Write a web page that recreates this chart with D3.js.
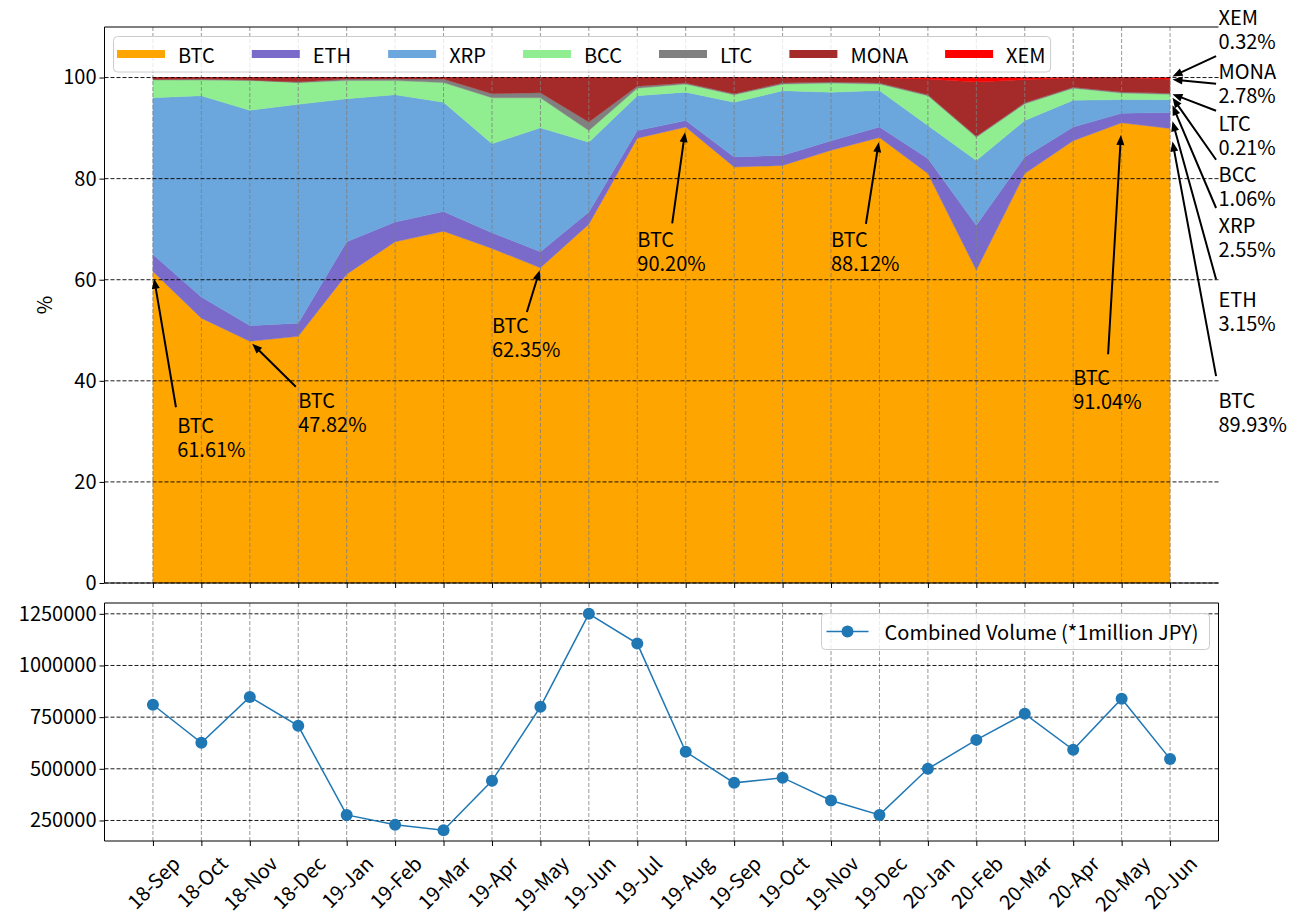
<!DOCTYPE html>
<html><head><meta charset="utf-8">
<script src="https://cdn.jsdelivr.net/npm/d3@7"></script>
<style>
body{margin:0;background:#fff}
svg{display:block}
text{font-family:"Noto Sans CJK JP","Noto Sans",sans-serif;fill:#000}
</style>
</head><body>
<svg id="chart" width="1295" height="920"></svg>
<script>
// ---------------- data ----------------
const months = ["18-Sep","18-Oct","18-Nov","18-Dec","19-Jan","19-Feb","19-Mar","19-Apr","19-May","19-Jun","19-Jul","19-Aug","19-Sep","19-Oct","19-Nov","19-Dec","20-Jan","20-Feb","20-Mar","20-Apr","20-May","20-Jun"];
const seriesNames = ["BTC","ETH","XRP","BCC","LTC","MONA","XEM"];
const BTC  = [61.61,52.4,47.82,48.8,61.1,67.5,69.6,66.2,62.35,71.0,88.0,90.20,82.3,82.6,85.6,88.12,81.0,61.9,81.0,87.5,91.04,89.93];
const ETH  = [3.4,4.2,3.1,2.6,6.4,3.9,3.9,3.1,3.2,2.4,1.5,1.3,2.0,2.0,1.9,2.1,3.0,8.9,3.3,2.7,1.9,3.15];
const XRP  = [31.0,39.8,42.6,43.3,28.3,25.2,21.6,17.6,24.5,13.8,6.9,5.6,10.8,12.8,9.6,7.2,6.5,12.8,7.2,5.3,2.7,2.55];
const BCC  = [3.5,3.1,5.9,4.3,3.6,2.8,3.9,9.1,5.95,2.3,1.5,1.6,1.5,1.3,1.8,1.3,5.9,4.6,3.3,2.4,1.3,1.06];
const LTC  = [0.1,0.2,0.1,0.1,0.3,0.3,0.7,0.8,1.0,1.7,0.4,0.2,0.2,0.2,0.2,0.2,0.2,0.2,0.2,0.2,0.2,0.21];
const MONA = [0.39,0.3,0.48,0.9,0.3,0.3,0.3,3.2,3.0,8.8,1.7,1.1,3.2,1.1,0.9,0.98,3.1,10.7,4.6,1.8,2.86,2.78];
const XEM  = [0,0,0,0,0,0,0,0,0,0,0,0,0,0,0,0.1,0.3,0.9,0.4,0.1,0,0.32];
const seriesValues = [BTC,ETH,XRP,BCC,LTC,MONA,XEM];
const seriesColors = ["#ffa500","#7a6ac9","#6ba6dc","#90ee90","#808080","#a52a2a","#ff0000"];
const volume = [810000,626000,848000,708000,277000,229000,203000,442000,800000,1250000,1106000,582000,432000,457000,347000,277000,500000,640000,766000,592000,839000,548000];
const volumeLabel = "Combined Volume (*1million JPY)";
const yTicksTop = [0,20,40,60,80,100];
const yTicksBottom = [250000,500000,750000,1000000,1250000];
// BTC annotations: month index and text anchor (x index, y %)
const btcNoteIndex = [0,2,8,11,15,20];
const btcNoteText = [[0.5,29.6],[3,34.6],[7,49.4],[10,66.4],[14,66.4],[19,39.1]];
// last-month annotations: text anchor y (%) for each series, placed at x index 22
const lastNoteY = [34.6,54.6,69.3,79.3,89.5,99.8,110.4];

// ---------------- layout ----------------
const svg = d3.select("#chart");
const FS = 20, LH = 24;
const L = 104.5, R = 1218.5, T1 = 27, B1 = 583, T2 = 603, B2 = 841;
const x = d3.scaleLinear().domain([-1, 22]).range([L, R]);
const yTop = d3.scaleLinear().domain([0, 110]).range([B1, T1]);
const vMin = d3.min(volume), vMax = d3.max(volume), vPad = (vMax - vMin) * 0.05;
const yBot = d3.scaleLinear().domain([vMin - vPad, vMax + vPad]).range([B2, T2]);

// ---------------- top stacked area ----------------
const rows = months.map((m, i) => { const r = {}; seriesNames.forEach((n, k) => r[n] = seriesValues[k][i]); return r; });
const stacked = d3.stack().keys(seriesNames)(rows);
const area = d3.area().x((d, i) => x(i)).y0(d => yTop(d[0])).y1(d => yTop(d[1]));
const gTop = svg.append("g");
gTop.selectAll("path.layer").data(stacked).join("path")
  .attr("class", "layer").attr("d", area)
  .attr("fill", (d, k) => seriesColors[k]).attr("stroke", (d, k) => seriesColors[k]).attr("stroke-width", 0.4);

function vGrid(g, y0, y1) {
  g.selectAll(null).data(months).join("line")
    .attr("x1", (d, i) => x(i)).attr("x2", (d, i) => x(i)).attr("y1", y0).attr("y2", y1)
    .attr("stroke", "#7f7f7f").attr("stroke-width", 0.8).attr("stroke-dasharray", "4,2");
}
function hGrid(g, ticks, sc) {
  g.selectAll(null).data(ticks).join("line")
    .attr("x1", L).attr("x2", R).attr("y1", d => sc(d)).attr("y2", d => sc(d))
    .attr("stroke", "#000").attr("stroke-width", 0.9).attr("stroke-dasharray", "4,2");
}
vGrid(gTop, T1, B1);
hGrid(gTop, yTicksTop, yTop);

// spines top
gTop.append("path").attr("d", `M${L},${T1}H${R}M${L},${T1}V${B1}H${R}`).attr("fill", "none").attr("stroke", "#000").attr("stroke-width", 1);

function styleAxis(g) {
  g.attr("font-size", FS).attr("font-family", null);
  g.select(".domain").remove();
  g.selectAll(".tick line").attr("stroke", "#000").attr("stroke-width", 1);
}
const axTopY = gTop.append("g").attr("transform", `translate(${L},0)`)
  .call(d3.axisLeft(yTop).tickValues(yTicksTop).tickSize(5).tickPadding(3).tickFormat(d3.format("d")));
styleAxis(axTopY);
const axTopX = gTop.append("g").attr("transform", `translate(0,${B1})`)
  .call(d3.axisBottom(x).tickValues(d3.range(months.length)).tickSize(5).tickFormat(""));
styleAxis(axTopX);

svg.append("text").attr("transform", `translate(43,${(T1 + B1) / 2}) rotate(-90)`)
  .attr("text-anchor", "middle").attr("dominant-baseline", "central").attr("font-size", FS).text("%");

// ---------------- annotations ----------------
const gAnn = svg.append("g");
function arrowPath(x0, y0, x1, y1) {
  const dx = x1 - x0, dy = y1 - y0, len = Math.hypot(dx, dy);
  const ux = dx / len, uy = dy / len, nx = -uy, ny = ux;
  const hl = Math.min(10, len * 0.6), hw = 4, tw = 1;
  const bx = x1 - ux * hl, by = y1 - uy * hl;
  return `M${x0 + nx * tw},${y0 + ny * tw}L${bx + nx * tw},${by + ny * tw}L${bx + nx * hw},${by + ny * hw}L${x1},${y1}` +
         `L${bx - nx * hw},${by - ny * hw}L${bx - nx * tw},${by - ny * tw}L${x0 - nx * tw},${y0 - ny * tw}Z`;
}
function annotate(lines, tx, ty, px, py) {
  const t = gAnn.append("text").attr("x", tx).attr("y", ty).attr("font-size", FS);
  lines.forEach((s, k) => t.append("tspan").attr("x", tx).attr("dy", k ? LH : 0).text(s));
  const w = d3.max(t.selectAll("tspan").nodes(), n => n.getComputedTextLength());
  const bx0 = tx, bx1 = tx + w, by0 = ty - 19, by1 = ty + LH * (lines.length - 1) + 6;
  const xs = [bx0, (bx0 + bx1) / 2, bx1], ys = [by0, (by0 + by1) / 2, by1];
  const sx = xs.reduce((a, b) => Math.abs(b - px) < Math.abs(a - px) ? b : a);
  const sy = ys.reduce((a, b) => Math.abs(b - py) < Math.abs(a - py) ? b : a);
  const r = Math.hypot(px - sx, py - sy), ux = (px - sx) / r, uy = (py - sy) / r, sh = 0.05 * r;
  gAnn.append("path").attr("d", arrowPath(sx + ux * sh, sy + uy * sh, px - ux * sh, py - uy * sh)).attr("fill", "#000");
}
btcNoteIndex.forEach((idx, k) => {
  const v = BTC[idx];
  annotate(["BTC", v.toFixed(2) + "%"], x(btcNoteText[k][0]), yTop(btcNoteText[k][1]), x(idx), yTop(v));
});
const last = months.length - 1;
seriesNames.forEach((n, k) => {
  const v = seriesValues[k][last];
  annotate([n, v.toFixed(2) + "%"], x(22), yTop(lastNoteY[k]), x(last), yTop(stacked[k][last][1]));
});

// ---------------- top legend ----------------
const gLeg = svg.append("g");
const legBox = gLeg.append("rect");
let hx = 117, legY = 54, lastEnd = 0;
seriesNames.forEach((n, k) => {
  gLeg.append("rect").attr("x", hx).attr("y", legY - 4).attr("width", 48).attr("height", 8).attr("fill", seriesColors[k]);
  const t = gLeg.append("text").attr("x", hx + 61).attr("y", legY).attr("dominant-baseline", "central").attr("font-size", FS).text(n);
  const tw = t.node().getComputedTextLength();
  lastEnd = hx + 61 + tw;
  hx = lastEnd + 37;
});
legBox.attr("x", 113.5).attr("y", 36.5).attr("width", lastEnd + 5 - 113.5).attr("height", 35.5).attr("rx", 4)
  .attr("fill", "#fff").attr("fill-opacity", 0.8).attr("stroke", "#cccccc").attr("stroke-width", 1);

// ---------------- bottom line chart ----------------
const gBot = svg.append("g");
vGrid(gBot, T2, B2);
hGrid(gBot, yTicksBottom, yBot);
gBot.append("path").attr("d", `M${L},${T2}H${R}V${B2}H${L}Z`).attr("fill", "none").attr("stroke", "#000").attr("stroke-width", 1);
const axBotY = gBot.append("g").attr("transform", `translate(${L},0)`)
  .call(d3.axisLeft(yBot).tickValues(yTicksBottom).tickSize(5).tickPadding(3).tickFormat(d3.format("d")));
styleAxis(axBotY);
const axBotX = gBot.append("g").attr("transform", `translate(0,${B2})`)
  .call(d3.axisBottom(x).tickValues(d3.range(months.length)).tickSize(5).tickFormat(""));
styleAxis(axBotX);
months.forEach((m, i) => {
  const t = gBot.append("text").attr("font-size", FS).attr("text-anchor", "middle").attr("dominant-baseline", "central").text(m);
  const w = t.node().getComputedTextLength();
  const H = (w + 23) * Math.SQRT1_2;
  const cx = x(i), cy = B2 + 10 + H / 2;
  t.attr("x", cx).attr("y", cy).attr("transform", `rotate(-45,${cx},${cy})`);
});
const line = d3.line().x((d, i) => x(i)).y(d => yBot(d));
gBot.append("path").datum(volume).attr("d", line).attr("fill", "none").attr("stroke", "#1f77b4").attr("stroke-width", 1.5);
gBot.selectAll("circle.pt").data(volume).join("circle").attr("class", "pt")
  .attr("cx", (d, i) => x(i)).attr("cy", d => yBot(d)).attr("r", 6).attr("fill", "#1f77b4");

// bottom legend
const gLeg2 = svg.append("g");
const box2 = gLeg2.append("rect");
const lt = gLeg2.append("text").attr("font-size", FS).attr("dominant-baseline", "central").text(volumeLabel);
const ltw = lt.node().getComputedTextLength();
const bw = 63 + ltw + 11, bxl = 1209.5 - bw, byt = 613.5, bym = byt + 18;
box2.attr("x", bxl).attr("y", byt).attr("width", bw).attr("height", 36).attr("rx", 4)
  .attr("fill", "#fff").attr("fill-opacity", 0.8).attr("stroke", "#cccccc").attr("stroke-width", 1);
gLeg2.append("line").attr("x1", bxl + 5).attr("x2", bxl + 47).attr("y1", bym).attr("y2", bym).attr("stroke", "#1f77b4").attr("stroke-width", 1.5);
gLeg2.append("circle").attr("cx", bxl + 26).attr("cy", bym).attr("r", 6).attr("fill", "#1f77b4");
lt.attr("x", bxl + 63).attr("y", bym);
</script>
</body></html>
